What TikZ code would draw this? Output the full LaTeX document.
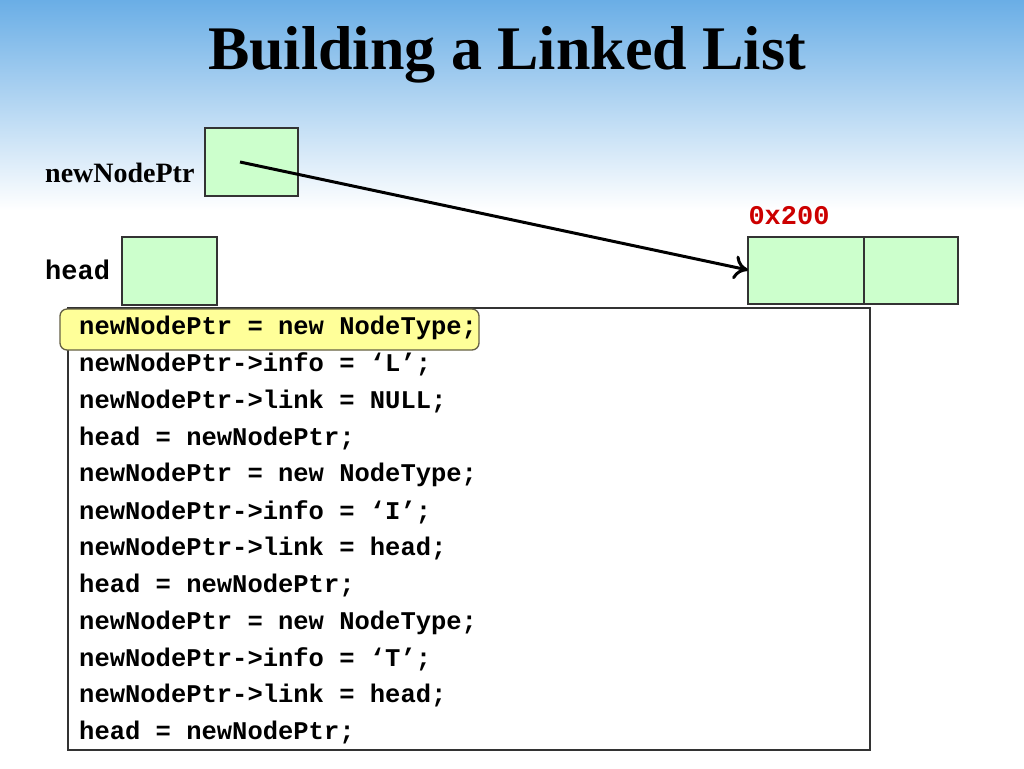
\documentclass[tikz,border=0pt]{standalone}
\usepackage{fontspec}
\setmainfont{Liberation Serif}
\setmonofont{Liberation Mono}
\usetikzlibrary{positioning,arrows.meta}
\definecolor{cellgreen}{HTML}{CCFFCC}
\definecolor{skyblue}{HTML}{6AAEE6}
\definecolor{hilite}{HTML}{FFFF99}
\definecolor{addrred}{HTML}{CC0000}
\begin{document}
\begin{tikzpicture}[x=1pt,y=-1pt]
  \tikzset{cell/.style={draw=black!80, fill=cellgreen, line width=1.3pt}}
  \tikzset{codeline/.style={anchor=west, inner sep=0pt, font=\fontsize{25.5}{25.5}\ttfamily\bfseries}}
  \useasboundingbox (0,0) rectangle (1024,768);
  \shade[top color=skyblue, bottom color=white] (0,0) rectangle (1024,210);
  \node (title) at (507,55) {\fontsize{62}{62}\selectfont\bfseries Building a Linked List};
  % pointer variables
  \node[anchor=west, inner sep=0pt, font=\fontsize{28}{28}\selectfont\bfseries] (ptrlabel) at (45,173) {newNodePtr};
  \node[anchor=west, inner sep=0pt, font=\fontsize{27}{27}\ttfamily\bfseries] (headlabel) at (45,270) {head};
  \draw[cell] (205,128) rectangle (298,196);
  \draw[cell] (122,237) rectangle (217,305);
  \coordinate (ptrsrc) at (240,162);
  % new node
  \draw[cell] (748,237) rectangle (864,304);
  \draw[cell] (864,237) rectangle (958,304);
  \coordinate (infocell) at (748,270);
  \node[font=\fontsize{27}{27}\ttfamily\bfseries, text=addrred] (addr) at (789,216) {0x200};
  \draw[-{To[length=14pt,width=24pt,line width=3pt]}, line width=3pt] (ptrsrc) -- (infocell);
  % code
  \draw[fill=white, draw=black!80, line width=1.3pt] (68,308) rectangle (870,750);
  \draw[rounded corners=7pt, fill=hilite, draw=black!70!yellow, line width=1.3pt] (60,309) rectangle (479,350);
  \foreach \txt [count=\i from 0] in {newNodePtr = new NodeType;, newNodePtr->info = ‘L’;,
      newNodePtr->link = NULL;, head = newNodePtr;, newNodePtr = new NodeType;,
      newNodePtr->info = ‘I’;, newNodePtr->link = head;, head = newNodePtr;,
      newNodePtr = new NodeType;, newNodePtr->info = ‘T’;, newNodePtr->link = head;,
      head = newNodePtr;}
    \node[codeline] (line\i) at (79,328+36.8*\i) {\txt};
\end{tikzpicture}
\end{document}
